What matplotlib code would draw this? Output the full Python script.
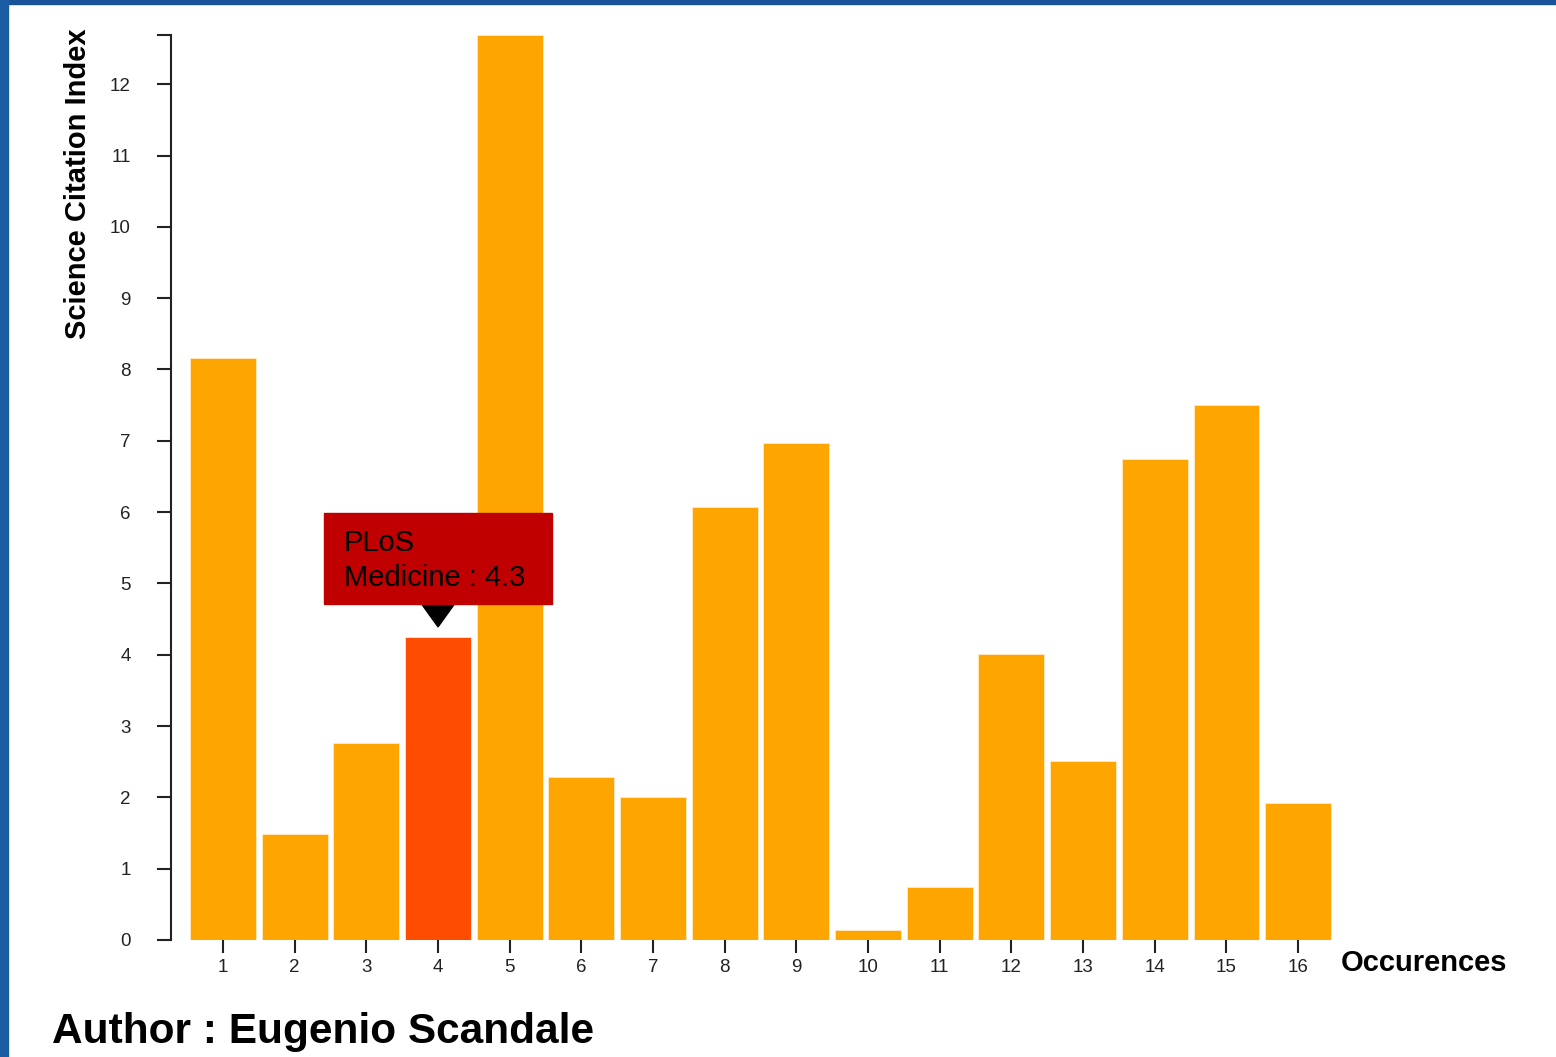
import matplotlib
matplotlib.use("Agg")
import matplotlib.pyplot as plt
from matplotlib.patches import Rectangle, Polygon
import numpy as np

plt.rcParams['font.family'] = ['Liberation Sans', 'DejaVu Sans']

# data
occurences = list(range(1, 17))
citation_index = [8.16, 1.49, 2.76, 4.25, 12.69, 2.29, 2.0, 6.07,
                  6.97, 0.14, 0.74, 4.01, 2.51, 6.74, 7.5, 1.92]
highlight_idx = 3  # PLoS Medicine
tooltip_text = "PLoS\nMedicine : 4.3"
y_ticks = list(range(0, 13))

bar_color = '#FFA500'
hi_color = '#FF4D00'
tip_color = '#C00000'

W, H = 1556, 1057
fig = plt.figure(figsize=(W / 100, H / 100), dpi=100)
ax = fig.add_axes([171 / W, 117 / H, 1163 / W, 905 / H])

colors = [hi_color if i == highlight_idx else bar_color for i in range(len(occurences))]
ax.bar(occurences, citation_index, width=0.92, color=colors,
       edgecolor='#FFE9C8', linewidth=0.6)

ymax = max(citation_index)
ax.set_ylim(0, ymax)
ax.set_xlim(0.2744, 16.5)

ax.set_yticks(y_ticks + [ymax])
ax.set_yticklabels([str(t) for t in y_ticks] + [''])
ax.set_xticks(occurences)
ax.set_xticklabels([str(o) for o in occurences])

for s in ['top', 'right', 'bottom']:
    ax.spines[s].set_visible(False)
ax.spines['left'].set_linewidth(1.5)
ax.spines['left'].set_color('#222222')
ax.tick_params(axis='y', length=10, width=1.5, color='#222222', pad=19,
               labelsize=13.5, labelcolor='#222222')
ax.tick_params(axis='x', length=9, width=1.5, color='#222222', pad=5,
               labelsize=13.5, labelcolor='#222222')

# tooltip over the highlighted bar
fig.canvas.draw()
px, py = ax.transData.transform((occurences[highlight_idx], citation_index[highlight_idx]))
inv = fig.transFigure.inverted()

def fpt(dx, dy):
    return inv.transform((px + dx, py + dy))

apex = 10
tri = Polygon([fpt(0, apex), fpt(-16.5, apex + 23), fpt(16.5, apex + 23)],
              closed=True, transform=fig.transFigure, color='black', zorder=5)
fig.patches.append(tri)
x0, y0 = fpt(-114, apex + 23)
x1, y1 = fpt(114, apex + 114)
fig.patches.append(Rectangle((x0, y0), x1 - x0, y1 - y0, transform=fig.transFigure,
                             color=tip_color, zorder=5))
tx, ty = fpt(-94, apex + 66)
fig.text(tx, ty, tooltip_text, fontsize=21, color='black', ha='left', va='center',
         linespacing=1.32, zorder=6)

# axis titles and author line
fig.text(1341 / W, 1 - 963 / H, 'Occurences', fontsize=21, fontweight='bold',
         ha='left', va='center')
fig.text(78 / W, 1 - 184 / H, 'Science Citation Index', fontsize=21, fontweight='bold',
         rotation=90, ha='center', va='center')
fig.text(52 / W, 1 - 1043 / H, 'Author : Eugenio Scandale', fontsize=30.5,
         fontweight='bold', ha='left', va='baseline')

# blue frame at top and left edge
fig.patches.append(Rectangle((0, 1 - 4 / H), 1, 4 / H, transform=fig.transFigure,
                             color='#1B539A', zorder=10))
fig.patches.append(Rectangle((0, 0), 8 / W, 1, transform=fig.transFigure,
                             color='#1B5CA3', zorder=10))

fig.savefig('out.png', dpi=100)
